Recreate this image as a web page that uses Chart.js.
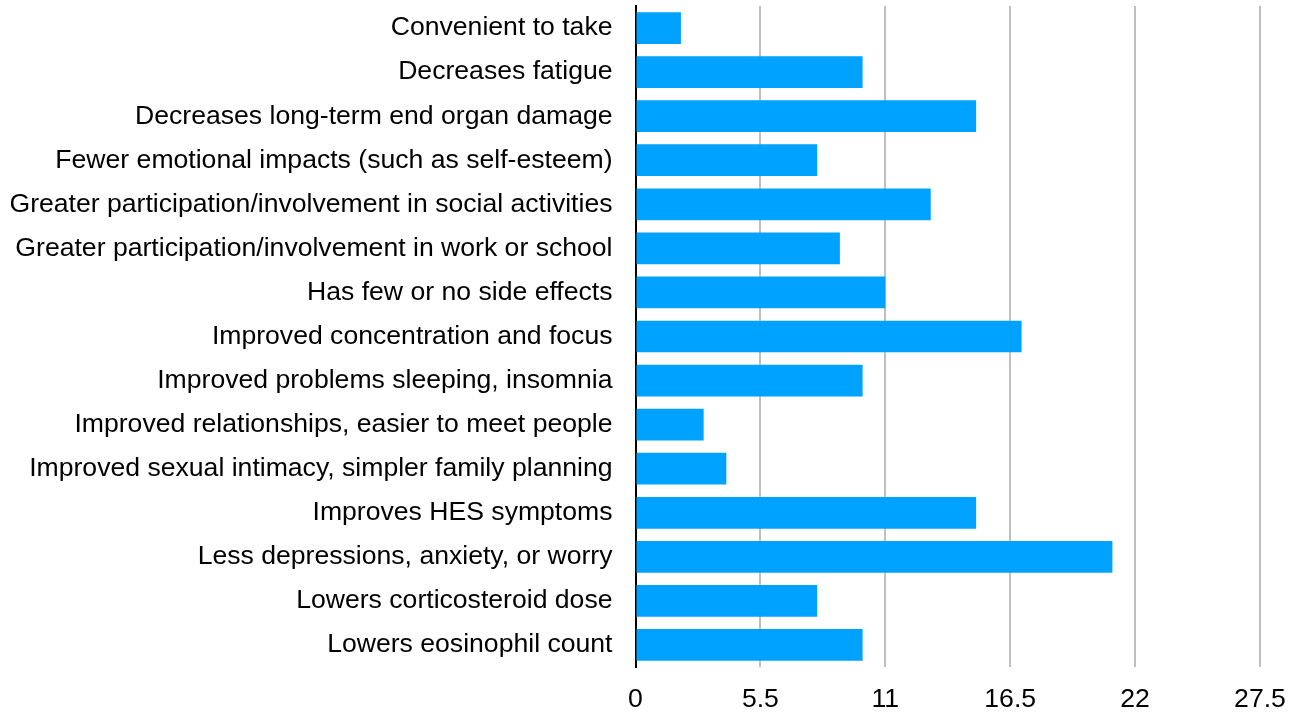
<!DOCTYPE html>
<html>
<head>
<meta charset="utf-8">
<script src="https://cdn.jsdelivr.net/npm/chart.js@4.4.0/dist/chart.umd.min.js"></script>
<style>
html,body{margin:0;padding:0;background:#fff;}
#wrap{width:1301px;height:715px;}
</style>
</head>
<body>
<div id="wrap"><canvas id="c" width="1301" height="715"></canvas></div>
<script>
const categories = [
  "Convenient to take",
  "Decreases fatigue",
  "Decreases long-term end organ damage",
  "Fewer emotional impacts (such as self-esteem)",
  "Greater participation/involvement in social activities",
  "Greater participation/involvement in work or school",
  "Has few or no side effects",
  "Improved concentration and focus",
  "Improved problems sleeping, insomnia",
  "Improved relationships, easier to meet people",
  "Improved sexual intimacy, simpler family planning",
  "Improves HES symptoms",
  "Less depressions, anxiety, or worry",
  "Lowers corticosteroid dose",
  "Lowers eosinophil count"
];
const values = [2, 10, 15, 8, 13, 9, 11, 17, 10, 3, 4, 15, 21, 8, 10];
const tickValues = [0, 5.5, 11, 16.5, 22, 27.5];

const FONT = '"Liberation Sans", Arial, sans-serif';

new Chart(document.getElementById('c'), {
  type: 'bar',
  data: {
    labels: categories,
    datasets: [{
      data: values,
      backgroundColor: '#00A2FF',
      borderWidth: 0,
      barPercentage: 0.72,
      categoryPercentage: 1.0
    }]
  },
  options: {
    indexAxis: 'y',
    responsive: false,
    animation: false,
    layout: { padding: { left: 11, right: 41, top: 6, bottom: 0 } },
    plugins: { legend: { display: false }, tooltip: { enabled: false } },
    scales: {
      x: {
        min: 0,
        max: 27.5,
        afterBuildTicks: (axis) => { axis.ticks = tickValues.map(v => ({ value: v })); },
        afterFit: (axis) => {
          axis.height = 48;
          axis.paddingTop = 0; axis.paddingBottom = 0;
          axis.paddingLeft = 0; axis.paddingRight = 0;
        },
        grid: { color: '#BFBFBF', lineWidth: 2, drawTicks: false },
        border: { display: false },
        ticks: {
          color: '#000',
          font: { family: FONT, size: 26.6 },
          padding: 17,
          maxRotation: 0,
          callback: (v) => String(v)
        }
      },
      y: {
        z: 1,
        afterFit: (axis) => { axis.paddingTop = 0; axis.paddingBottom = 0; },
        grid: { display: false, drawTicks: false },
        border: { display: true, color: '#000', width: 2 },
        ticks: {
          color: '#000',
          font: { family: FONT, size: 26.6 },
          padding: 23,
          autoSkip: false
        }
      }
    }
  }
});
</script>
</body>
</html>
